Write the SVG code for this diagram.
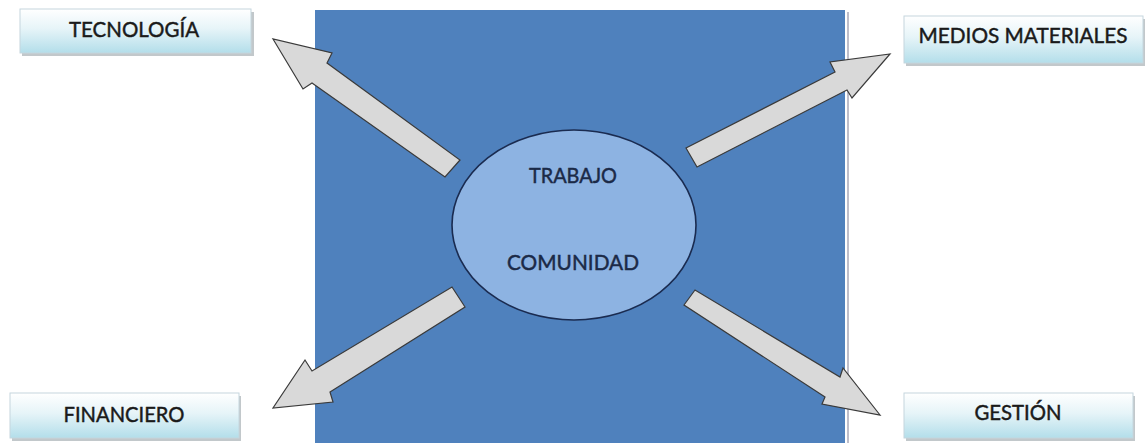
<svg xmlns="http://www.w3.org/2000/svg" width="1146" height="443" viewBox="0 0 1146 443">
<defs>
<linearGradient id="boxg" x1="0" y1="0" x2="0" y2="1">
<stop offset="0" stop-color="#ffffff"/>
<stop offset="0.45" stop-color="#e6f4f8"/>
<stop offset="1" stop-color="#b3deea"/>
</linearGradient>
<style>
.box{fill:url(#boxg);stroke:#c5d6de;stroke-width:1}
.shadow{fill:#9aa3a8;opacity:0.6}
.lbl{font-family:Lato,"Open Sans","Liberation Sans",sans-serif;font-size:21px;fill:#1a1a1a;stroke:#1a1a1a;stroke-width:0.45;text-anchor:middle}
.ctr{font-family:Lato,"Open Sans","Liberation Sans",sans-serif;font-size:21px;fill:#1b2a47;stroke:#1b2a47;stroke-width:0.45;text-anchor:middle}
.arr{fill:#d9d9d9;stroke:#3a3a3a;stroke-width:1.2;stroke-linejoin:miter}
</style>
</defs>
<rect width="1146" height="443" fill="#ffffff"/>
<g id="background">
<rect x="315" y="10" width="530" height="433" fill="#4f81bd"/>
<line x1="848" y1="12" x2="848" y2="443" stroke="#a9a9b8" stroke-width="1.5"/>
</g>
<g id="connectors">
<polygon class="arr" points="460,160 445,177 312,83 303,89 273,39 332,53 327,63"/>
<polygon class="arr" points="686,148 697,167 847,90 852,98 890,54 830,62 835,72"/>
<polygon class="arr" points="452,287 465,307 330,392 333,402 273,408 305,360 312,371"/>
<polygon class="arr" points="695,290 684,305 825,397 822,404 880,415 843,368 840,377"/>
</g>
<g id="center">
<ellipse cx="574" cy="225" rx="122" ry="95" fill="#8db3e2" stroke="#1a2b50" stroke-width="1.6"/>
<text class="ctr" x="573" y="183" textLength="88" lengthAdjust="spacingAndGlyphs">TRABAJO</text>
<text class="ctr" x="573" y="270" textLength="132" lengthAdjust="spacingAndGlyphs">COMUNIDAD</text>
</g>
<g id="tecnologia">
<rect class="shadow" x="22" y="12" width="232" height="44"/>
<rect class="box" x="20" y="9" width="231" height="44"/>
<text class="lbl" x="134" y="37" textLength="130" lengthAdjust="spacingAndGlyphs">TECNOLOGÍA</text>
</g>
<g id="medios">
<rect class="shadow" x="906" y="19" width="239" height="47"/>
<rect class="box" x="904" y="16" width="239" height="47"/>
<text class="lbl" x="1023" y="43" textLength="209" lengthAdjust="spacingAndGlyphs">MEDIOS MATERIALES</text>
</g>
<g id="financiero">
<rect class="shadow" x="12" y="396" width="229" height="45"/>
<rect class="box" x="10" y="393" width="229" height="45"/>
<text class="lbl" x="124" y="422" textLength="121" lengthAdjust="spacingAndGlyphs">FINANCIERO</text>
</g>
<g id="gestion">
<rect class="shadow" x="906" y="396" width="229" height="45"/>
<rect class="box" x="904" y="393" width="229" height="45"/>
<text class="lbl" x="1018" y="420" textLength="87" lengthAdjust="spacingAndGlyphs">GESTIÓN</text>
</g>
</svg>
